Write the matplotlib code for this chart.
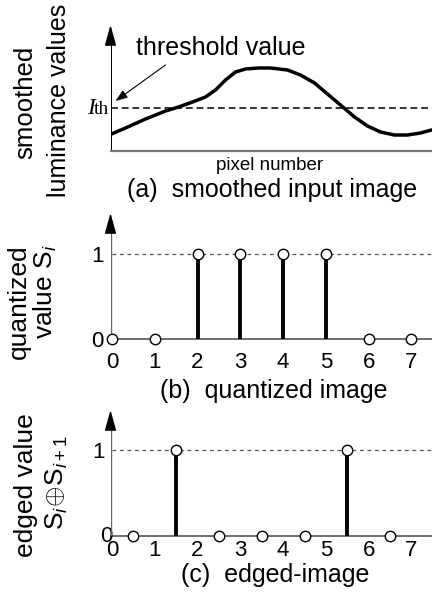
import matplotlib
matplotlib.use("Agg")
import matplotlib.pyplot as plt
from matplotlib.transforms import ScaledTranslation

plt.rcParams['font.family'] = ['Liberation Sans', 'DejaVu Sans']
plt.rcParams['mathtext.fontset'] = 'custom'
plt.rcParams['mathtext.rm'] = 'Liberation Sans'
plt.rcParams['mathtext.it'] = 'Liberation Sans:italic'

# (a) smoothed luminance curve
pos = [1, 15, 35, 55, 68, 82, 95, 105, 115, 125, 135, 148, 160, 177, 190,
       204, 217, 230, 244, 257, 270, 284, 297, 310, 321]
lum = [17, 23, 32, 40, 44, 49, 54, 61, 71, 79, 82, 83, 83, 81, 76,
       68, 57, 46, 34, 25, 19, 16, 16, 18, 21]
threshold = 43

# (b) quantized values
pixels = [0, 1, 2, 3, 4, 5, 6, 7]
quantized = [0, 0, 1, 1, 1, 1, 0, 0]

# (c) edged values between neighbouring pixels
edge_pos = [0.5, 1.5, 2.5, 3.5, 4.5, 5.5, 6.5]
edged = [0, 1, 0, 0, 0, 1, 0]

W, H = 432, 604
fig = plt.figure(figsize=(W / 100, H / 100), dpi=100)


def box(left, right, bottom, top):
    return [left / W, 1 - bottom / H, (right - left) / W, (bottom - top) / H]


def ftext(px, py, s, **kw):
    fig.text(px / W, 1 - py / H, s, ha='center', va='center', **kw)


def up_arrow(ax):
    ax.annotate('', xy=(0, 1), xytext=(0, 0.9), xycoords='axes fraction',
                arrowprops=dict(arrowstyle='-|>,head_length=0.9,head_width=0.25',
                                color='black', lw=1, shrinkA=0, shrinkB=0,
                                mutation_scale=14))


def shift(label, dx, dy):
    # nudge a tick label by pixels
    label.set_transform(label.get_transform() +
                        ScaledTranslation(dx / 100, dy / 100, fig.dpi_scale_trans))


# ---- (a) ----
axA = fig.add_axes(box(110.5, 432, 151, 25))
for s in axA.spines.values():
    s.set_visible(False)
axA.set_xticks([])
axA.set_yticks([])
axA.set_xlim(0, 321.5)
axA.set_ylim(0, 126)
axA.axvline(0, ymax=0.92, color='black', lw=1.4)
up_arrow(axA)
axA.axhline(0, color='#777777', lw=1.6, clip_on=False)
axA.axhline(threshold, color='black', lw=1.1, ls=(0, (4.5, 2.5)))
axA.plot(pos, lum, color='black', lw=2.5, solid_capstyle='round',
         solid_joinstyle='round')
axA.annotate('', xy=(5, 50), xytext=(55, 86),
             arrowprops=dict(arrowstyle='-|>,head_length=0.6,head_width=0.22',
                             color='black', lw=0.8, mutation_scale=12,
                             shrinkA=0, shrinkB=0))
axA.text(-16, threshold - 6, 'I', family='Liberation Serif', style='italic',
         fontsize=17, ha='right', va='baseline', clip_on=False)
axA.text(-17, threshold - 6, 'th', family='Liberation Serif',
         fontsize=14, ha='left', va='baseline', clip_on=False)
ftext(221, 48, 'threshold value', fontsize=18)
ftext(270, 166, 'pixel number', fontsize=13.5)
ftext(272, 190, '(a)  smoothed input image', fontsize=18)
ftext(25, 102, 'smoothed', fontsize=18.5, rotation=90)
ftext(59, 100, 'luminance values', fontsize=18, rotation=90)


def stem_axes(ax, xs, ys, ytop):
    for s in ax.spines.values():
        s.set_visible(False)
    ax.set_xlim(-0.035, 7.48)
    ax.set_ylim(0, ytop)
    ax.axvline(-0.035, ymax=0.92, color='#666666', lw=1.0)
    up_arrow(ax)
    ax.axhline(0, color='#555555', lw=1.2, clip_on=False, zorder=1)
    ax.axhline(1, xmin=0.005, color='#555555', lw=0.9, ls=(0, (3, 3)))
    top = [x for x, y in zip(xs, ys) if y == 1]
    ax.vlines(top, 0, 1, color='black', lw=2.8, zorder=2)
    ax.plot(xs, ys, 'o', mfc='white', mec='black', ms=7.5, mew=1.0,
            clip_on=False, zorder=3)
    ax.set_xticks(pixels)
    ax.set_xticklabels([str(p) for p in pixels])
    ax.set_yticks([0, 1])
    ax.set_yticklabels(['0', '1'])
    ax.tick_params(length=0, labelsize=16)


# ---- (b) ----
axB = fig.add_axes(box(110.5, 432, 339, 213))
stem_axes(axB, pixels, quantized, 1 + 41 / 85)
axB.tick_params(axis='x', pad=9)
axB.tick_params(axis='y', pad=5)
shift(axB.get_yticklabels()[0], 0, 0)
ftext(274, 391, '(b)  quantized image', fontsize=18)
ftext(19, 302, 'quantized', fontsize=19, rotation=90)
ftext(45, 292, r'value S$_i$', fontsize=19, rotation=90)

# ---- (c) ----
axC = fig.add_axes(box(110.5, 432, 536, 410))
stem_axes(axC, edge_pos, edged, 1 + 40 / 86)
axC.tick_params(axis='x', pad=3)
axC.tick_params(axis='y', pad=4)
shift(axC.get_yticklabels()[0], 8, 2)
ftext(275, 575, '(c)  edged-image', fontsize=18)
ftext(26, 485, 'edged value', fontsize=19, rotation=90)
ftext(57, 483, r'S$_i\!\oplus\!$S$_{i+1}$', fontsize=19, rotation=90)

fig.savefig('out.png', dpi=100)
